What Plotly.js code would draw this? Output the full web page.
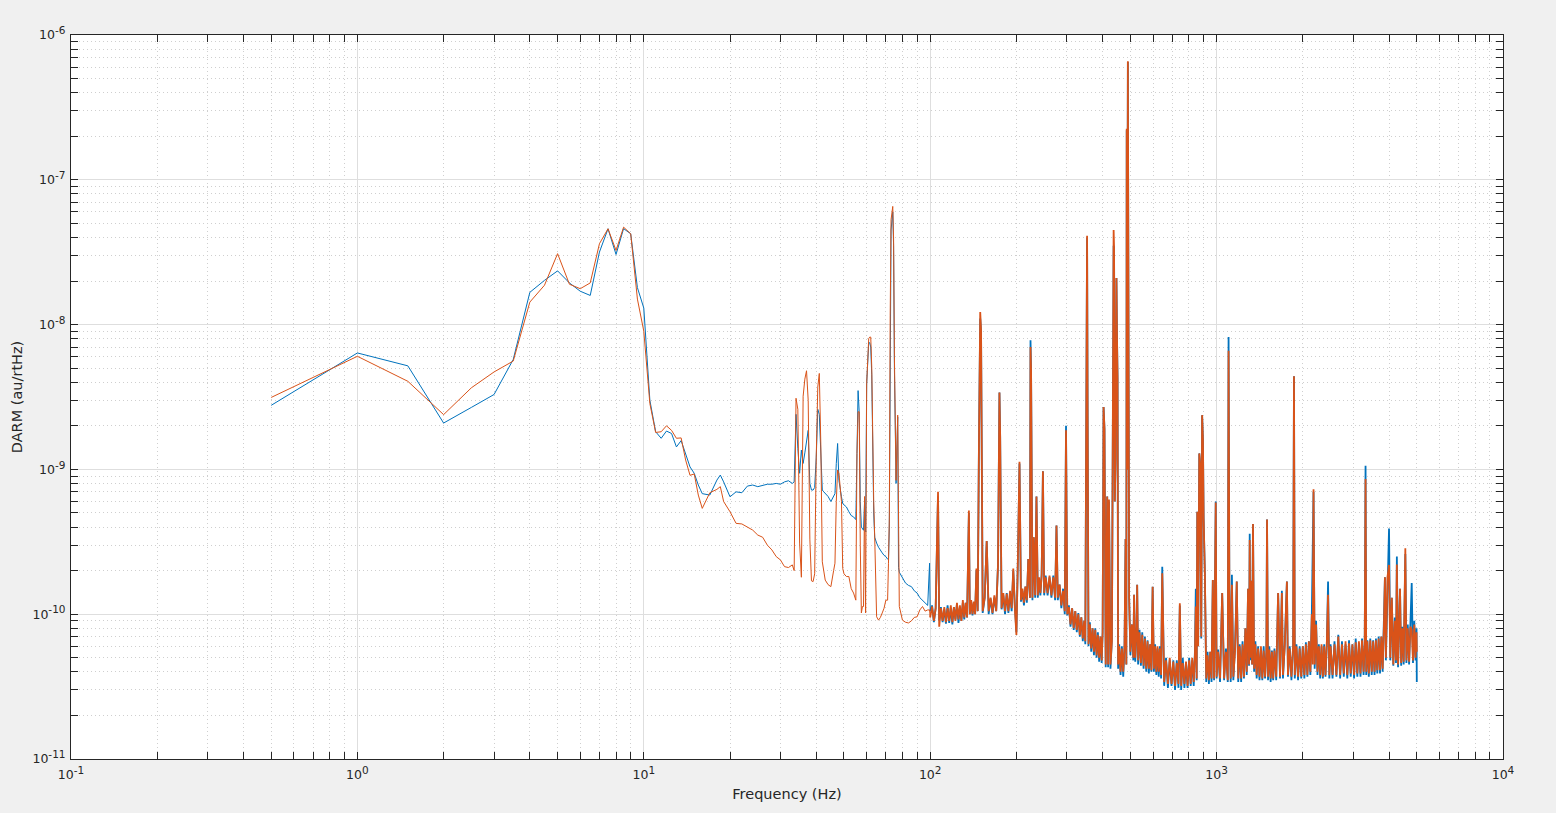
<!DOCTYPE html>
<html><head><meta charset="utf-8">
<script src="https://cdn.plot.ly/plotly-3.0.1.min.js"></script>
<style>html,body{margin:0;padding:0;background:#f0f0f0;}#chart{width:1556px;height:813px;}</style>
</head><body><div id="chart"></div>
<script>
// ---- Frequencies (Hz) and DARM amplitude (au/rtHz) ----
// Segment A: 0.5 - 15.5 Hz
const freqA = [0.5,1,1.5,2,2.5,3,3.5,4,4.5,5,5.5,6,6.5,7,7.5,8,8.5,9,9.5,10,10.5,11,11.5,12,12.5,13,13.5,14,14.5,15,15.5];
const blueA = [2.77e-9,6.37e-9,5.19e-9,2.09e-9,2.68e-9,3.29e-9,5.74e-9,1.67e-8,2.02e-8,2.35e-8,
1.94e-8,1.70e-8,1.59e-8,3.17e-8,4.59e-8,3.05e-8,4.6e-8,4.24e-8,1.8e-8,1.3e-8,
3.0e-9,1.82e-9,1.64e-9,1.84e-9,1.77e-9,1.43e-9,1.58e-9,1.26e-9,1.04e-9,9.4e-10,7.8e-10];
const orangeA = [3.14e-9,6.04e-9,4.06e-9,2.39e-9,3.66e-9,4.71e-9,5.6e-9,1.43e-8,1.87e-8,3.09e-8,
1.9e-8,1.77e-8,1.94e-8,3.62e-8,4.59e-8,3.25e-8,4.71e-8,4.24e-8,1.5e-8,9e-9,
2.85e-9,1.8e-9,1.82e-9,2.0e-9,1.86e-9,1.64e-9,1.65e-9,1.16e-9,9.1e-10,9.3e-10,6.65e-10];
// Segment B: 16 - 32 Hz
const freqB = [16,17,18,18.5,19,20,21,22,23,24,25,26,27,28,29,30,31,32];
const blueB = [6.8e-10,6.65e-10,8.44e-10,9.14e-10,8.2e-10,6.47e-10,7.0e-10,6.9e-10,7.67e-10,7.8e-10,7.6e-10,7.8e-10,7.9e-10,7.9e-10,8.0e-10,7.9e-10,8.2e-10,8.35e-10];
const orangeB = [5.38e-10,6.9e-10,7.28e-10,7.6e-10,6.0e-10,5.1e-10,4.24e-10,4.2e-10,3.98e-10,3.81e-10,3.52e-10,3.4e-10,3.0e-10,2.78e-10,2.5e-10,2.37e-10,2.13e-10,2.1e-10];
// Segment C: 33 - 99.5 Hz
const freqC = [33,33.5,34,34.5,35,35.5,36,36.5,37,37.5,
38,38.5,39,39.5,40,40.5,41,41.5,42,42.5,
43,44,45,46,46.5,47,47.5,48,48.5,49,
49.5,50,51,52,53,54,55,55.5,56,56.5,
57,57.5,58,58.5,59,59.5,60,60.5,61,61.5,
62,62.5,63,63.5,64,64.5,65,66,67,68,
69,70,71,71.5,72,72.5,73,74,74.5,75,
75.5,76,77,77.5,78,80,82,84,86,88,
90,92,94,96,98,99.5];
const blueC = [8.0e-10,8.2e-10,2.4e-9,1.4e-9,9.4e-10,1.36e-9,1.1e-9,1.3e-9,1.6e-9,1.86e-9,
8.0e-10,7.2e-10,7.2e-10,7.5e-10,1.2e-9,2.6e-9,2.4e-9,1.19e-9,7.2e-10,7.0e-10,
6.8e-10,6.5e-10,6.0e-10,6.6e-10,6.8e-10,1.1e-9,1.51e-9,8.4e-10,7.0e-10,6.47e-10,
5.8e-10,5.7e-10,5.5e-10,5.1e-10,4.8e-10,4.7e-10,4.5e-10,1.29e-9,3.5e-9,2.5e-9,
6.0e-10,4.0e-10,3.9e-10,3.8e-10,6.0e-10,3.7e-10,3.9e-9,6.0e-9,7.5e-9,7.5e-9,
7.0e-9,4.5e-9,1.4e-9,5.0e-10,3.4e-10,3.2e-10,3.1e-10,2.9e-10,2.75e-10,2.65e-10,
2.55e-10,2.5e-10,2.4e-10,2.37e-10,4.0e-10,8.0e-9,4.5e-8,6.0e-8,3.5e-8,5.0e-9,
2.2e-9,8.0e-10,2.3e-9,2.1e-10,1.95e-10,1.8e-10,1.64e-10,1.58e-10,1.55e-10,1.45e-10,
1.4e-10,1.3e-10,1.25e-10,1.2e-10,1.15e-10,2.25e-10];
const orangeC = [2.19e-10,2.0e-10,3.1e-9,2.6e-9,3.1e-10,1.8e-10,3.2e-9,4.2e-9,4.8e-9,3.0e-9,
3.3e-10,1.7e-10,1.68e-10,1.9e-10,1.2e-9,3.7e-9,4.6e-9,1.5e-9,2.3e-10,2.0e-10,
1.72e-10,1.6e-10,1.55e-10,2.0e-10,2.25e-10,6.0e-10,9.9e-10,9.4e-10,7.5e-10,6.0e-10,
2.07e-10,1.9e-10,1.82e-10,1.82e-10,1.5e-10,1.4e-10,1.25e-10,1.29e-9,2.5e-9,2.5e-9,
3.0e-10,1.02e-10,1.13e-10,1.13e-10,6.5e-10,1.02e-10,3.9e-9,6.8e-9,8.0e-9,8.2e-9,
8.2e-9,5.1e-9,1.47e-9,6.0e-10,3.43e-10,1.5e-10,9.6e-11,9.1e-11,9.5e-11,1.02e-10,
1.1e-10,1.25e-10,1.25e-10,2.25e-10,4.7e-10,1.16e-8,5.3e-8,6.55e-8,3.9e-8,6.0e-9,
2.43e-9,8.4e-10,2.37e-9,2.0e-10,1.13e-10,9.1e-11,8.8e-11,8.7e-11,9.0e-11,9.5e-11,
9.6e-11,1.07e-10,1.13e-10,1.05e-10,1.07e-10,1.07e-10];
// Segment H1: 100 - 149.5 Hz
const freqH1 = [100,101.5,103,104.5,106.5,107.5,109,110.5,112,113.5,
115,116.5,118,119.5,121,122.5,124,125.5,127,128.5,
130,131.5,133,134.5,136.5,137.5,139,140.5,142,143.5,
145,146.5,148,149.5];
const blueH1 = [1.05e-10,1.15e-10,8.8e-11,1.1e-10,6.5e-10,9.0e-11,1.12e-10,8.8e-11,1.08e-10,8.6e-11,
1.15e-10,8.7e-11,1.1e-10,8.5e-11,1.12e-10,9.2e-11,1.18e-10,8.7e-11,1.12e-10,9.0e-11,
1.2e-10,9.2e-11,1.2e-10,9.5e-11,5.0e-10,1.0e-10,1.22e-10,9.8e-11,1.2e-10,1.0e-10,
2.0e-10,1.05e-10,1.51e-9,1.1e-8];
const orangeH1 = [9.5e-11,1.13e-10,9.0e-11,1.1e-10,7.0e-10,8.2e-11,1.1e-10,9.0e-11,1.12e-10,8.8e-11,
1.1e-10,9.0e-11,1.15e-10,8.8e-11,1.12e-10,9.0e-11,1.2e-10,9.2e-11,1.15e-10,9.0e-11,
1.25e-10,9.5e-11,1.2e-10,9.5e-11,5.2e-10,1.0e-10,1.25e-10,1.0e-10,1.22e-10,1.0e-10,
2.07e-10,1.05e-10,1.5e-9,1.22e-8];
// Segment H2: 150 - 250 Hz
const freqH2 = [150.5,152.5,155,157.5,160,162.5,165,167.5,170,172.5,
174.5,175.5,177.5,180,182.5,185,187.5,190,192.5,195,
197.5,200,202.5,205,207.5,210,212.5,215,217.5,220,
223,224,225,227.5,230,232.5,235,237.5,240,242.5,
245,247.5,250];
const blueH2 = [9.0e-9,1.02e-10,1.3e-10,3.2e-10,1.0e-10,1.28e-10,1.0e-10,1.3e-10,1.05e-10,2.2e-10,
3.4e-9,1.7e-9,1.08e-10,1.35e-10,1.0e-10,1.4e-10,1.02e-10,1.4e-10,1.05e-10,2.0e-10,
1.15e-10,7.5e-11,2.5e-10,1.1e-9,1.22e-10,1.45e-10,1.15e-10,1.55e-10,1.2e-10,2.4e-10,
1.3e-10,7.8e-9,4.8e-9,1.25e-10,3.4e-10,1.3e-10,6.5e-10,1.3e-10,1.75e-10,1.35e-10,
1.9e-10,9.7e-10,1.35e-10];
const orangeH2 = [9.1e-9,1.05e-10,1.3e-10,3.2e-10,1.05e-10,1.3e-10,1.02e-10,1.35e-10,1.05e-10,2.2e-10,
3.4e-9,1.7e-9,1.1e-10,1.4e-10,1.05e-10,1.38e-10,1.05e-10,1.45e-10,1.1e-10,2.07e-10,
1.1e-10,7.2e-11,2.55e-10,1.13e-9,1.25e-10,1.5e-10,1.2e-10,1.55e-10,1.25e-10,2.4e-10,
1.3e-10,7.0e-9,4.8e-9,1.3e-10,3.4e-10,1.35e-10,6.5e-10,1.35e-10,1.8e-10,1.4e-10,
1.85e-10,9.7e-10,1.4e-10];
// Segment H3: 253 - 400 Hz
const freqH3 = [253,257,261,265,269,273,276,279,283,287,
291,295,298,301,305,309,313,317,321,325,
329,333,337,341,345,348,350,351.5,353,354.5,
357,361,365,369,373,377,381,385,389,393,
397,400];
const blueH3 = [1.85e-10,1.35e-10,1.8e-10,1.3e-10,1.85e-10,1.25e-10,4.1e-10,1.25e-10,1.6e-10,1.1e-10,
1.5e-10,1.0e-10,2.0e-9,9.8e-11,1.15e-10,8.2e-11,1.1e-10,7.8e-11,1.05e-10,7.5e-11,
1.02e-10,7.0e-11,9.5e-11,6.5e-11,9.0e-11,6.2e-11,9.4e-10,2.7e-8,4.0e-8,2.6e-9,
6.0e-11,8.8e-11,5.5e-11,8.0e-11,5.2e-11,8.0e-11,5.0e-11,7.5e-11,4.7e-11,7.0e-11,
4.6e-11,7.5e-11];
const orangeH3 = [1.8e-10,1.4e-10,1.85e-10,1.35e-10,1.8e-10,1.3e-10,4.1e-10,1.3e-10,1.6e-10,1.15e-10,
1.45e-10,1.05e-10,1.86e-9,1.0e-10,1.12e-10,8.5e-11,1.1e-10,8.0e-11,1.05e-10,7.8e-11,
1.0e-10,7.2e-11,9.5e-11,6.8e-11,9.0e-11,6.5e-11,9.4e-10,2.8e-8,4.1e-8,2.6e-9,
6.2e-11,8.5e-11,5.8e-11,8.0e-11,5.5e-11,7.8e-11,5.2e-11,7.2e-11,5.0e-11,7.0e-11,
4.8e-11,7.5e-11];
// Segment H4: 403 - 640 Hz
const freqH4 = [403,406,410,415,418,421,426,431,434,435.5,
437,438.5,441,444,447,449,451,453,457,462,
467,472,477,481,484,485.5,487,490,492.5,495,
500,506,512,515,520,526,528,532,538,544,
550,556,562,568,574,580,586,592,598,604,
610,616,622,628,634,640];
const blueH4 = [2.7e-9,1.9e-9,4.3e-11,6.5e-10,4.3e-11,6.0e-10,4.2e-11,6.8e-11,2.0e-9,3.0e-8,
3.5e-8,3.4e-8,6.0e-10,1.2e-9,2.1e-8,8.2e-9,4.3e-9,4.2e-11,6.2e-11,3.8e-11,
6.0e-11,3.7e-11,6.0e-11,3.3e-10,4.5e-11,2.2e-7,1.0e-9,6.5e-7,1.1e-9,1.3e-10,
5.2e-11,8.5e-11,4.8e-11,1.36e-10,4.7e-11,8.2e-11,1.6e-10,4.5e-11,7.8e-11,4.4e-11,
7.5e-11,4.2e-11,7.0e-11,4.0e-11,6.6e-11,3.9e-11,6.2e-11,4.0e-11,1.55e-10,4.0e-11,
6.2e-11,3.8e-11,5.8e-11,3.7e-11,6.0e-11,3.6e-11];
const orangeH4 = [2.7e-9,1.9e-9,4.5e-11,6.5e-10,4.5e-11,6.2e-10,4.5e-11,6.5e-11,2.0e-9,3.5e-8,
4.5e-8,3.4e-8,6.0e-10,1.2e-9,2.1e-8,8.2e-9,4.3e-9,4.5e-11,6.0e-11,4.0e-11,
5.8e-11,4.0e-11,6.0e-11,3.3e-10,4.5e-11,2.25e-7,1.0e-9,6.6e-7,1.1e-9,1.3e-10,
5.5e-11,8.5e-11,5.0e-11,1.36e-10,5.0e-11,8.0e-11,1.6e-10,4.8e-11,7.5e-11,4.6e-11,
7.2e-11,4.4e-11,6.8e-11,4.2e-11,6.5e-11,4.2e-11,6.2e-11,4.1e-11,1.55e-10,4.2e-11,
6.0e-11,4.0e-11,6.0e-11,4.0e-11,5.8e-11,3.8e-11];
// Segment H5: 646 - 1000 Hz
const freqH5 = [646,656,666,676,686,696,706,716,726,736,
744,752,762,772,782,792,802,812,822,832,
840,846,852,856,862,870,876,884,890,896,
901,910,920,930,940,950,960,970,980,988,
993,1000];
const blueH5 = [2.13e-10,3.2e-11,5.0e-11,3.1e-11,4.8e-11,3.2e-11,4.8e-11,3.0e-11,4.8e-11,3.1e-11,
1.15e-10,3.0e-11,5.0e-11,3.1e-11,4.6e-11,3.1e-11,5.0e-11,3.2e-11,4.8e-11,3.2e-11,
5.5e-11,1.5e-10,3.5e-11,5.1e-10,6.0e-11,1.29e-9,1.1e-9,6.8e-11,2.37e-9,1.6e-9,
4.6e-10,1.9e-10,3.4e-11,5.5e-11,3.3e-11,5.5e-11,3.4e-11,1.72e-10,3.5e-11,3.4e-10,
6.0e-10,3.6e-11];
const orangeH5 = [1.92e-10,3.4e-11,4.8e-11,3.3e-11,5.0e-11,3.3e-11,4.7e-11,3.2e-11,4.6e-11,3.3e-11,
1.19e-10,3.2e-11,4.6e-11,3.3e-11,4.7e-11,3.2e-11,4.8e-11,3.3e-11,5.0e-11,3.4e-11,
5.2e-11,1.13e-10,3.6e-11,5.1e-10,6.0e-11,1.29e-9,1.1e-9,7.0e-11,2.37e-9,1.6e-9,
4.6e-10,1.9e-10,3.6e-11,5.2e-11,3.5e-11,5.5e-11,3.6e-11,1.72e-10,3.6e-11,3.4e-10,
5.9e-10,3.7e-11];
// Segment H6: 1012 - 1592 Hz
const freqH6 = [1012,1028,1046,1062,1078,1094,1101,1108,1120,1131,
1144,1160,1176,1190,1204,1218,1232,1246,1260,1274,
1288,1298,1305,1312,1320,1330,1340,1352,1366,1380,
1396,1412,1428,1444,1460,1476,1492,1500,1512,1528,
1544,1560,1576,1592];
const blueH6 = [5.7e-11,3.4e-11,1.4e-10,3.5e-11,5.8e-11,3.4e-11,8.2e-9,1.5e-10,3.4e-11,1.87e-10,
3.5e-11,6.0e-11,1.68e-10,3.4e-11,6.2e-11,3.4e-11,6.5e-11,3.6e-11,8.0e-11,3.8e-11,
1.5e-10,4.4e-11,3.6e-10,4.8e-11,1.7e-10,4.5e-11,4.2e-10,4.0e-11,6.5e-11,3.6e-11,
6.0e-11,3.5e-11,5.8e-11,3.5e-11,6.0e-11,3.6e-11,5.5e-11,4.5e-10,3.5e-11,6.0e-11,
3.4e-11,5.6e-11,3.5e-11,5.8e-11];
const orangeH6 = [5.5e-11,3.6e-11,1.4e-10,3.6e-11,5.5e-11,3.5e-11,6.6e-9,1.5e-10,3.6e-11,1.6e-10,
3.7e-11,5.6e-11,1.68e-10,3.6e-11,6.0e-11,3.6e-11,6.2e-11,3.7e-11,8.0e-11,4.0e-11,
1.5e-10,4.5e-11,3.25e-10,5.0e-11,1.7e-10,4.5e-11,4.2e-10,4.2e-11,6.2e-11,3.8e-11,
5.8e-11,3.7e-11,6.0e-11,3.6e-11,5.6e-11,3.7e-11,5.5e-11,4.5e-10,3.7e-11,5.7e-11,
3.6e-11,5.5e-11,3.6e-11,5.6e-11];
// Segment H7: 1615 - 2475 Hz
const freqH7 = [1615,1640,1665,1690,1705,1730,1760,1775,1800,1825,
1850,1863,1875,1900,1925,1950,1975,2000,2025,2050,
2075,2100,2125,2150,2165,2180,2200,2225,2250,2275,
2300,2325,2350,2375,2400,2425,2450,2475];
const blueH7 = [3.5e-11,1.4e-10,3.6e-11,1.45e-10,3.6e-11,6.2e-11,1.68e-10,3.7e-11,6.0e-11,3.5e-11,
6.0e-11,4.4e-9,3.6e-11,6.2e-11,3.5e-11,6.0e-11,3.6e-11,6.0e-11,3.6e-11,6.4e-11,
3.7e-11,6.5e-11,3.8e-11,1.0e-10,3.35e-10,7.0e-10,4.2e-11,9.0e-11,3.8e-11,6.2e-11,
3.6e-11,6.0e-11,3.6e-11,6.2e-11,3.7e-11,6.0e-11,1.68e-10,3.6e-11];
const orangeH7 = [3.7e-11,1.4e-10,3.7e-11,1.4e-10,3.8e-11,6.0e-11,1.68e-10,3.8e-11,5.8e-11,3.7e-11,
6.0e-11,4.4e-9,3.8e-11,6.0e-11,3.7e-11,5.8e-11,3.7e-11,6.0e-11,3.8e-11,6.2e-11,
3.8e-11,6.5e-11,4.0e-11,1.0e-10,4.5e-11,7.3e-10,4.5e-11,8.5e-11,4.0e-11,6.0e-11,
3.8e-11,6.2e-11,3.7e-11,6.0e-11,3.8e-11,6.2e-11,1.36e-10,3.8e-11];
// Segment H8: 2500 - 4000 Hz
const freqH8 = [2500,2540,2580,2620,2660,2700,2740,2780,2820,2860,
2900,2940,2980,3020,3060,3100,3140,3180,3220,3260,
3290,3312,3330,3360,3400,3440,3480,3520,3560,3600,
3640,3680,3720,3760,3800,3840,3870,3900,3950,4000];
const blueH8 = [6.2e-11,3.6e-11,6.5e-11,3.7e-11,7.2e-11,3.6e-11,6.5e-11,3.7e-11,6.2e-11,3.6e-11,
6.6e-11,3.7e-11,6.2e-11,3.6e-11,6.8e-11,3.7e-11,6.3e-11,3.7e-11,6.8e-11,3.8e-11,
6.2e-11,1.06e-9,3.8e-11,6.6e-11,3.7e-11,6.8e-11,3.8e-11,6.6e-11,3.8e-11,6.8e-11,
3.9e-11,7.0e-11,3.9e-11,7.0e-11,4.0e-11,8.8e-11,1.8e-10,4.8e-11,1.8e-10,3.9e-10];
const orangeH8 = [6.0e-11,3.8e-11,6.2e-11,3.8e-11,7.0e-11,3.8e-11,6.2e-11,3.9e-11,6.5e-11,3.8e-11,
6.3e-11,3.9e-11,6.2e-11,3.8e-11,6.4e-11,3.9e-11,6.5e-11,3.9e-11,6.6e-11,4.0e-11,
6.2e-11,8.6e-10,4.0e-11,6.5e-11,3.9e-11,6.6e-11,4.0e-11,6.5e-11,4.0e-11,6.6e-11,
4.1e-11,6.8e-11,4.1e-11,7.0e-11,4.2e-11,8.5e-11,1.8e-10,5.0e-11,1.8e-10,2.19e-10];
// Segment H9: 4040 - 5000 Hz
const freqH9 = [4040,4090,4140,4190,4230,4260,4300,4340,4370,4410,
4450,4500,4540,4560,4600,4650,4700,4750,4800,4850,
4900,4950,4990,5000];
const blueH9 = [4.8e-11,1.3e-10,4.4e-11,9.5e-11,4.6e-11,2.5e-10,4.3e-11,8.5e-11,1.5e-10,4.4e-11,
8.2e-11,4.5e-11,1.2e-10,2.6e-10,4.6e-11,8.5e-11,4.5e-11,8.5e-11,1.64e-10,4.6e-11,
9.0e-11,4.8e-11,8.0e-11,3.4e-11];
const orangeH9 = [5.0e-11,1.3e-10,4.5e-11,9.0e-11,4.8e-11,2.2e-10,4.5e-11,8.0e-11,1.5e-10,4.6e-11,
8.0e-11,4.7e-11,1.2e-10,2.85e-10,4.8e-11,8.0e-11,4.7e-11,8.2e-11,7.8e-11,4.8e-11,
8.5e-11,5.0e-11,7.5e-11,5.5e-11];

// Tick labels
const SUP = '<sup><span style="font-size:10.5px">';
const xTickVals = [0.1,1,10,100,1000,10000];
const xTickText = ['10'+SUP+'-1</span></sup>','10'+SUP+'0</span></sup>','10'+SUP+'1</span></sup>','10'+SUP+'2</span></sup>','10'+SUP+'3</span></sup>','10'+SUP+'4</span></sup>'];
const yTickVals = [1e-11,1e-10,1e-9,1e-8,1e-7,1e-6];
const yTickText = ['10'+SUP+'-11</span></sup>','10'+SUP+'-10</span></sup>','10'+SUP+'-9</span></sup>','10'+SUP+'-8</span></sup>','10'+SUP+'-7</span></sup>','10'+SUP+'-6</span></sup>'];

// ---- assemble ----
const freq = [].concat(freqA,freqB,freqC,freqH1,freqH2,freqH3,freqH4,freqH5,freqH6,freqH7,freqH8,freqH9);
const blue = [].concat(blueA,blueB,blueC,blueH1,blueH2,blueH3,blueH4,blueH5,blueH6,blueH7,blueH8,blueH9);
const orange = [].concat(orangeA,orangeB,orangeC,orangeH1,orangeH2,orangeH3,orangeH4,orangeH5,orangeH6,orangeH7,orangeH8,orangeH9);
const split = freq.indexOf(100);

const BLUE = '#0072BD', ORANGE = '#D95319';
const FONT = "'DejaVu Sans', Verdana, sans-serif";
function tr(x, y, c, w){ return {x:x, y:y, type:'scatter', mode:'lines', line:{color:c, width:w}, hoverinfo:'skip', showlegend:false}; }
const data = [
  tr(freq.slice(0, split+1), blue.slice(0, split+1), BLUE, 1),
  tr(freq.slice(split), blue.slice(split), BLUE, 1.8),
  tr(freq.slice(0, split+1), orange.slice(0, split+1), ORANGE, 1),
  tr(freq.slice(split), orange.slice(split), ORANGE, 1.8)
];

const axisCommon = {
  type:'log', showline:true, linecolor:'#262626', linewidth:1, mirror:'allticks',
  ticks:'inside', ticklen:7, tickcolor:'#262626', tickwidth:1,
  showgrid:true, gridcolor:'#dedede', gridwidth:1, zeroline:false,
  tickmode:'array',
  tickfont:{family:FONT, size:12.5, color:'#262626'},
  minor:{tickmode:'linear', dtick:'D1', ticks:'inside', ticklen:7, tickcolor:'#262626', tickwidth:1,
         showgrid:true, gridcolor:'#cfcfcf', gridwidth:1, griddash:'1px,3px'}
};
const layout = {
  width:1556, height:813,
  paper_bgcolor:'#f0f0f0', plot_bgcolor:'#ffffff',
  margin:{l:71, r:53, t:35, b:54},
  showlegend:false,
  font:{family:FONT, color:'#262626'},
  xaxis: Object.assign({}, axisCommon, {
    range:[-1,4], tickvals:xTickVals, ticktext:xTickText, ticklabelstandoff:4,
    title:{text:'Frequency (Hz)', font:{family:FONT, size:14.5, color:'#262626'}, standoff:7}
  }),
  yaxis: Object.assign({}, axisCommon, {
    range:[-11,-6], tickvals:yTickVals, ticktext:yTickText, ticklabelstandoff:2,
    title:{text:'DARM (au/rtHz)', font:{family:FONT, size:14.5, color:'#262626'}, standoff:6}
  })
};
Plotly.newPlot('chart', data, layout, {displayModeBar:false, staticPlot:true});
</script>
</body></html>
